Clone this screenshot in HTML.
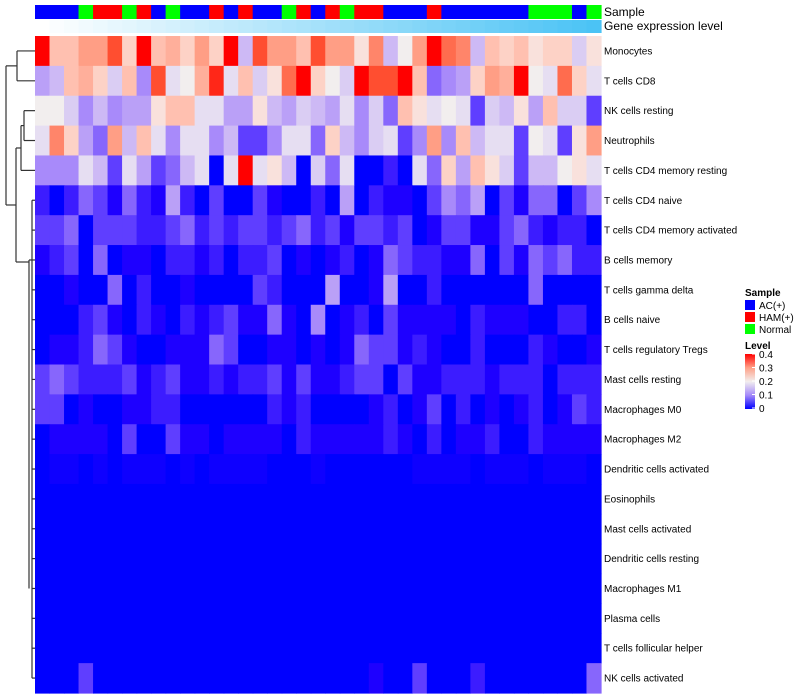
<!DOCTYPE html>
<html><head><meta charset="utf-8">
<style>
html,body{margin:0;padding:0;background:#fff;}
svg{display:block;font-family:"Liberation Sans",Arial,sans-serif;}
</style></head>
<body>
<svg id="chart" width="800" height="700" viewBox="0 0 800 700" xmlns="http://www.w3.org/2000/svg">
<g id="dendro" stroke="#333" stroke-width="1.2" fill="none"></g>
<g id="sampleBar"></g>
<g id="geneBar"></g>
<g id="cells"></g>
<g id="rowLabels" font-size="10" fill="#000"></g>
<text x="604" y="16" font-size="12">Sample</text>
<text x="604" y="30" font-size="12">Gene expression level</text>
<g font-size="10">
  <text x="745" y="296" font-weight="bold">Sample</text>
  <rect x="745" y="300" width="10" height="10" fill="#0000ff"/>
  <text x="759" y="309">AC(+)</text>
  <rect x="745" y="312" width="10" height="10" fill="#ff0000"/>
  <text x="759" y="321">HAM(+)</text>
  <rect x="745" y="324" width="10" height="10" fill="#00ff00"/>
  <text x="759" y="333">Normal</text>
  <text x="745" y="349" font-weight="bold">Level</text>
  <defs><linearGradient id="lg" x1="0" y1="1" x2="0" y2="0">
    <stop offset="0" stop-color="#0000ff"/><stop offset="0.25" stop-color="#a58af9"/>
    <stop offset="0.5" stop-color="#f2eeee"/><stop offset="0.75" stop-color="#ffa087"/>
    <stop offset="1" stop-color="#ff0000"/></linearGradient></defs>
  <rect x="745" y="354" width="10" height="55" fill="url(#lg)"/>
  <g id="levelTicks"></g>
</g>
</svg>
<script>
const rowNames = ["Monocytes","T cells CD8","NK cells resting","Neutrophils","T cells CD4 memory resting","T cells CD4 naive","T cells CD4 memory activated","B cells memory","T cells gamma delta","B cells naive","T cells regulatory  Tregs","Mast cells resting","Macrophages M0","Macrophages M2","Dendritic cells activated","Eosinophils","Mast cells activated","Dendritic cells resting","Macrophages M1","Plasma cells","T cells follicular helper","NK cells activated"];
const sampleGroups = "AAANHHNHANAAHAHAANHAHNHHAAAHAAAAAANNNAN".split("");
const geneLevel = [0,2,4,6,8,10,12,14,16,18,20,22,24,26,28,30,32,34,36,38,40,42,44,46,48,50,52,54,56,58,60,62,64,66,68,70,72,74,76];
const levelTicks = [0.4,0.3,0.2,0.1,0];
// values in percent (0-40)
const row01 = [40,26,26,30,30,36,24,40,26,28,24,30,24,40,14,36,30,30,26,36,30,30,22,32,14,20,30,40,34,32,14,26,24,26,22,24,24,16,22];
const row02 = [12,14,26,28,24,16,26,10,36,18,20,28,38,18,26,16,22,34,40,24,20,16,40,36,36,40,26,8,10,12,24,30,28,40,20,18,34,24,18];
const row03 = [20,20,16,10,14,10,12,12,22,26,26,18,18,12,12,22,14,12,16,14,12,18,10,16,8,26,22,18,20,18,6,16,14,22,12,26,16,16,6];
const row04 = [18,32,24,12,8,30,14,26,18,10,18,18,10,14,6,6,10,18,18,8,24,14,10,16,18,6,10,30,10,26,14,18,18,6,20,18,6,22,30];
const row05 = [10,10,10,18,14,6,18,12,6,8,14,18,0,18,40,18,22,14,0,16,8,18,0,0,4,0,18,8,24,12,26,22,16,6,14,14,20,22,18];
const row06 = [4,0,4,8,6,2,8,4,2,12,4,0,6,0,0,6,2,0,0,4,0,12,0,4,2,2,0,6,10,8,12,0,6,2,8,8,0,6,10];
const row07 = [6,6,8,0,6,6,6,4,4,6,8,4,6,4,6,6,4,6,8,4,6,2,6,6,4,6,0,2,6,6,2,2,6,8,4,2,4,4,0];
const row08 = [2,4,6,0,8,0,2,2,0,4,4,2,4,0,4,4,6,0,2,0,2,4,0,2,8,6,4,4,2,2,8,0,6,2,8,6,8,4,4];
const row09 = [0,0,2,0,0,8,0,4,0,0,2,0,0,0,0,6,4,0,0,0,12,0,0,2,12,0,0,4,0,0,0,0,0,0,8,0,0,0,0];
const row10 = [0,0,0,4,6,2,0,4,2,0,4,2,4,6,2,2,8,2,0,10,0,2,4,0,6,2,2,2,2,0,4,2,2,2,0,0,4,4,0];
const row11 = [0,2,2,4,8,6,2,0,0,2,2,2,8,6,0,0,2,2,0,2,0,2,8,6,6,2,4,2,0,0,4,0,0,0,4,2,0,0,2];
const row12 = [6,8,6,4,4,4,6,2,4,6,2,2,4,2,4,4,6,2,6,2,2,4,6,6,0,6,2,2,4,4,4,2,4,4,4,0,4,4,4];
const row13 = [6,6,0,2,0,0,2,2,4,4,0,0,0,0,0,0,4,2,4,0,0,0,0,2,4,0,2,6,0,4,0,2,0,2,4,0,2,6,4];
const row14 = [0,2,2,2,2,0,6,0,0,6,2,2,0,2,2,2,2,0,4,2,2,2,2,2,4,2,0,4,0,2,2,4,0,0,4,2,2,2,2];
const row15 = [0,1,1,0,1,0,1,1,1,0,1,0,1,1,1,1,0,0,0,1,0,0,0,0,0,0,1,1,1,1,0,1,1,1,0,1,1,1,0];
const row16 = [0,0,0,0,0,0,0,0,0,0,0,0,0,0,0,0,0,0,0,0,0,0,0,0,0,0,0,0,0,0,0,0,0,0,0,0,0,0,0];
const row17 = [0,0,0,0,0,0,0,0,0,0,0,0,0,0,0,0,0,0,0,0,0,0,0,0,0,0,0,0,0,0,0,0,0,0,0,0,0,0,0];
const row18 = [0,0,0,0,0,0,0,0,0,0,0,0,0,0,0,0,0,0,0,0,0,0,0,0,0,0,0,0,0,0,0,0,0,0,0,0,0,0,0];
const row19 = [0,0,0,0,0,0,0,0,0,0,0,0,0,0,0,0,0,0,0,0,0,0,0,0,0,0,0,0,0,0,0,0,0,0,0,0,0,0,0];
const row20 = [0,0,0,0,0,0,0,0,0,0,0,0,0,0,0,0,0,0,0,0,0,0,0,0,0,0,0,0,0,0,0,0,0,0,0,0,0,0,0];
const row21 = [0,0,0,0,0,0,0,0,0,0,0,0,0,0,0,0,0,0,0,0,0,0,0,0,0,0,0,0,0,0,0,0,0,0,0,0,0,0,0];
const row22 = [0,0,0,6,0,0,0,0,0,0,0,0,0,0,0,0,0,0,0,0,0,0,0,2,0,0,6,0,0,0,4,0,0,0,0,0,0,0,8];
const matrix = [row01,row02,row03,row04,row05,row06,row07,row08,row09,row10,row11,row12,row13,row14,row15,row16,row17,row18,row19,row20,row21,row22];

const NS = "http://www.w3.org/2000/svg";
const X0 = 35, X1 = 601, Y0 = 36, Y1 = 693;
const nCols = 39, nRows = matrix.length;
const cw = (X1 - X0) / nCols, rh = (Y1 - Y0) / nRows;
const xPos = i => X0 + i * cw;
const yPos = r => Y0 + r * rh;
const stops = [[0,[0,0,255]],[1,[14,0,255]],[2,[30,0,255]],[4,[60,28,255]],[6,[95,62,255]],[8,[135,102,252]],[10,[168,138,250]],[12,[186,160,247]],[14,[205,185,245]],[16,[218,205,243]],[18,[230,222,242]],[20,[242,238,238]],[22,[249,225,220]],[24,[253,210,198]],[26,[255,192,176]],[30,[255,158,133]],[34,[255,108,78]],[36,[255,78,48]],[40,[255,0,0]]];
function color(v){
  if (v <= 0) return "rgb(0,0,255)";
  for (let i = 1; i < stops.length; i++) {
    if (v <= stops[i][0]) {
      const [a, ca] = stops[i-1], [b, cb] = stops[i];
      const t = (v - a) / (b - a);
      const c = ca.map((x, k) => Math.round(x + (cb[k] - x) * t));
      return "rgb(" + c.join(",") + ")";
    }
  }
  return "rgb(255,0,0)";
}
const groupColor = {A:"#0000ff", H:"#ff0000", N:"#00ff00"};
const cells = document.getElementById("cells");
matrix.forEach((row, r) => {
  row.forEach((v, c) => {
    const el = document.createElementNS(NS, "rect");
    
    
    el.setAttribute("x", xPos(c)); el.setAttribute("y", yPos(r));
    el.setAttribute("width", cw + 0.6); el.setAttribute("height", rh + 0.6);
    el.setAttribute("fill", color(v));
    cells.appendChild(el);
  });
});
const sb = document.getElementById("sampleBar");
sampleGroups.forEach((g, c) => {
  const el = document.createElementNS(NS, "rect");
  
  
  el.setAttribute("x", xPos(c)); el.setAttribute("y", 5);
  el.setAttribute("width", cw + 0.6); el.setAttribute("height", 14);
  el.setAttribute("fill", groupColor[g]);
  sb.appendChild(el);
});
const gb = document.getElementById("geneBar");
geneLevel.forEach((g, c) => {
  const t = g / 76;
  const col = [255 + (75-255)*t, 255 + (195-255)*t, 255 + (245-255)*t].map(Math.round);
  const el = document.createElementNS(NS, "rect");
  
  
  el.setAttribute("x", xPos(c)); el.setAttribute("y", 20);
  el.setAttribute("width", cw + 0.6); el.setAttribute("height", 13);
  el.setAttribute("fill", "rgb(" + col.join(",") + ")");
  gb.appendChild(el);
});
const rl = document.getElementById("rowLabels");
rowNames.forEach((n, r) => {
  const el = document.createElementNS(NS, "text");
  
  
  el.setAttribute("x", 604); el.setAttribute("y", yPos(r) + rh/2 + 3.5);
  el.textContent = n;
  rl.appendChild(el);
});
const lt = document.getElementById("levelTicks");
levelTicks.forEach(v => {
  const y = 354 + (0.4 - v) / 0.4 * 54;
  const ln = document.createElementNS(NS, "line");
  
  
  ln.setAttribute("x1", 752); ln.setAttribute("x2", 755); ln.setAttribute("y1", y); ln.setAttribute("y2", y);
  ln.setAttribute("stroke", "#fff");
  lt.appendChild(ln);
  const tx = document.createElementNS(NS, "text");
  
  
  tx.setAttribute("x", 759); tx.setAttribute("y", y + 4);
  tx.textContent = v === 0 ? "0" : String(v);
  lt.appendChild(tx);
});
// dendrogram
const d = document.getElementById("dendro");
const cy = r => yPos(r) + rh/2;
function seg(x1,y1,x2,y2){
  const ln = document.createElementNS(NS, "line");
  
  
  ln.setAttribute("x1", x1); ln.setAttribute("y1", y1); ln.setAttribute("x2", x2); ln.setAttribute("y2", y2);
  d.appendChild(ln);
}
seg(17,cy(0),35,cy(0)); seg(17,cy(1),35,cy(1)); seg(17,cy(0),17,cy(1));
seg(24,cy(2),35,cy(2)); seg(24,cy(3),35,cy(3)); seg(24,cy(2),24,cy(3));
const bY = (cy(2)+cy(3))/2;
seg(21,bY,24,bY); seg(21,cy(4),35,cy(4)); seg(21,bY,21,cy(4));
const cY = (bY+cy(4))/2;
for (let r = 5; r < nRows; r++) seg(32, cy(r), 35, cy(r));
seg(32, cy(5), 32, cy(nRows-1));
seg(29, cy(7), 32, cy(7)); seg(29, cy(7), 29, cy(18));
const lY = 262;
seg(16,lY,29,lY);
seg(16,cY,21,cY); seg(16,cY,16,lY);
const eY = (cY+lY)/2;
const aY = (cy(0)+cy(1))/2;
seg(6,aY,17,aY); seg(6,eY,16,eY); seg(6,aY,6,eY);
</script>
</body></html>
